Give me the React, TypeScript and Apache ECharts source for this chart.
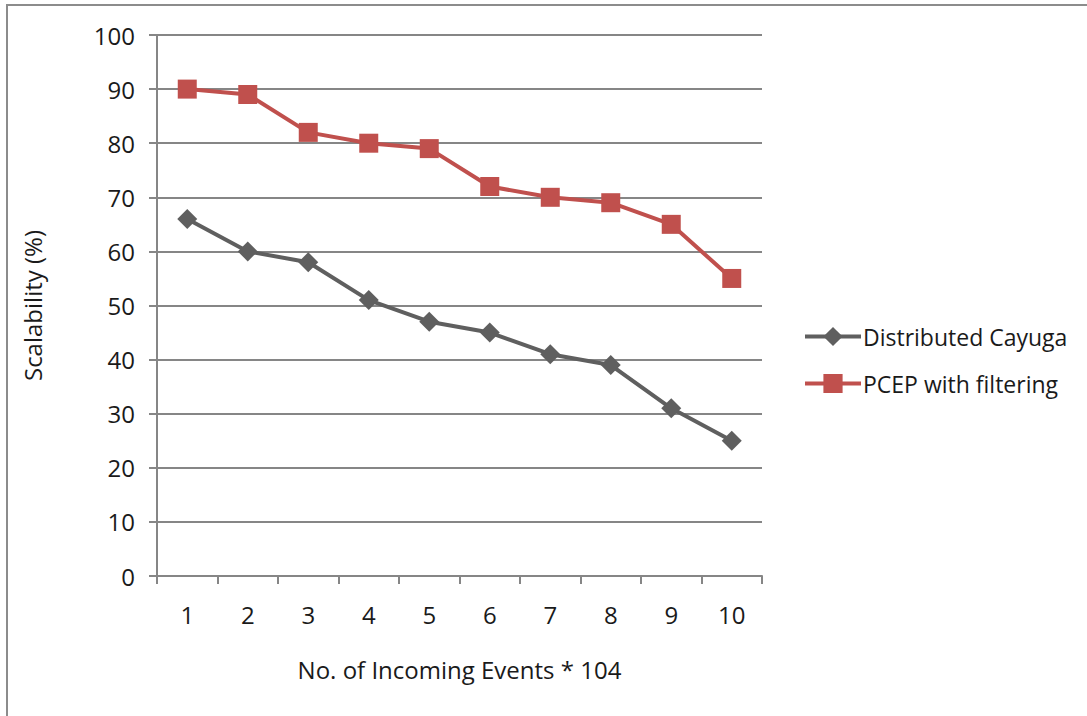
import React, { useEffect, useRef } from "react";
import * as echarts from "echarts";

const categories = ["1", "2", "3", "4", "5", "6", "7", "8", "9", "10"];
const distributedCayuga = [66, 60, 58, 51, 47, 45, 41, 39, 31, 25];
const pcepFiltering = [90, 89, 82, 80, 79, 72, 70, 69, 65, 55];

const FONT = "'Open Sans', Lato, sans-serif";
const TEXT = "#1a1a1a";
const AXIS = "#868686";
const FS = 24;

export default function App() {
  const ref = useRef<HTMLDivElement>(null);

  useEffect(() => {
    if (!ref.current) return;
    const chart = echarts.init(ref.current, undefined, { renderer: "svg" });
    chart.setOption({
      animation: false,
      backgroundColor: "#ffffff",
      textStyle: { fontFamily: FONT },
      graphic: [
        {
          type: "polyline",
          shape: { points: [[7, 716], [7, 5], [1087, 5]] },
          style: { stroke: "#8c8c8c", lineWidth: 2, fill: "none" },
          silent: true,
        },
      ],
      grid: { left: 157, top: 35, width: 605, height: 541 },
      legend: {
        orient: "vertical",
        left: 798,
        top: 320,
        itemWidth: 56,
        itemHeight: 24,
        itemGap: 24,
        lineStyle: { width: 4 },
        textStyle: { fontSize: 23, color: TEXT, fontFamily: FONT, padding: [0, 0, 0, -3] },
        data: ["Distributed Cayuga", "PCEP with filtering"],
      },
      xAxis: {
        type: "category",
        data: categories,
        boundaryGap: true,
        name: "No. of Incoming Events * 104",
        nameLocation: "middle",
        nameGap: 81,
        nameTextStyle: { fontSize: FS, color: TEXT, fontFamily: FONT },
        axisLine: { lineStyle: { color: AXIS, width: 2 } },
        axisTick: { show: true, interval: 0, length: 8, lineStyle: { color: AXIS, width: 2 } },
        axisLabel: { fontSize: FS, color: TEXT, margin: 26, fontFamily: FONT, interval: 0 },
      },
      yAxis: {
        type: "value",
        min: 0,
        max: 100,
        interval: 10,
        name: "Scalability (%)",
        nameLocation: "middle",
        nameGap: 113,
        nameRotate: 90,
        nameTextStyle: { fontSize: FS, color: TEXT, fontFamily: FONT },
        axisLine: { show: true, lineStyle: { color: AXIS, width: 2 } },
        axisTick: { show: true, length: 8, lineStyle: { color: AXIS, width: 2 } },
        axisLabel: { fontSize: FS, color: TEXT, margin: 22, fontFamily: FONT },
        splitLine: { show: true, lineStyle: { color: AXIS, width: 2 } },
      },
      series: [
        {
          name: "Distributed Cayuga",
          type: "line",
          data: distributedCayuga,
          symbol: "diamond",
          symbolSize: 20,
          color: "#5f5f5f",
          lineStyle: { color: "#5f5f5f", width: 4 },
          itemStyle: { color: "#5f5f5f" },
        },
        {
          name: "PCEP with filtering",
          type: "line",
          data: pcepFiltering,
          symbol: "rect",
          symbolSize: 19,
          color: "#c0504d",
          lineStyle: { color: "#c0504d", width: 4 },
          itemStyle: { color: "#c0504d" },
        },
      ],
    });
    return () => chart.dispose();
  }, []);

  return (
    <div
      ref={ref}
      style={{ position: "fixed", left: 0, top: 0, width: 1087, height: 716 }}
    />
  );
}
